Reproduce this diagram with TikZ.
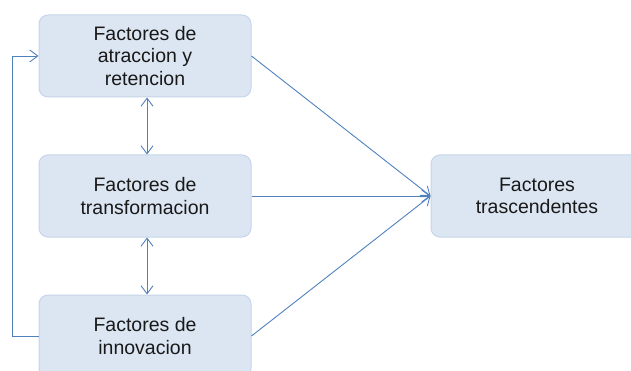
\documentclass[tikz,border=0pt]{standalone}
\usepackage{fontspec}
\setmainfont{Liberation Sans}
\usetikzlibrary{arrows.meta}
\definecolor{lineblue}{HTML}{4F81BD}
\definecolor{boxfill}{HTML}{DCE6F2}
\definecolor{boxedge}{HTML}{C6D5EA}
\begin{document}
\begin{tikzpicture}[x=1pt,y=-1pt,
  fbox/.style={draw=boxedge, line width=1pt, fill=boxfill, rounded corners=9pt,
    minimum width=212pt, minimum height=82pt, inner sep=0pt, align=center,
    font=\fontsize{19.5}{22.5}\selectfont, text=black!90},
  conn/.style={draw=lineblue, line width=0.9pt, -{Straight Barb[length=8pt,width=12pt]}},
  dconn/.style={draw=lineblue, line width=0.9pt, {Straight Barb[length=8pt,width=12pt]}-{Straight Barb[length=8pt,width=12pt]}}]
\useasboundingbox (0,0) rectangle (631,371);
\node[fbox] (a) at (145,56) {Factores de\\atraccion y\\retencion};
\node[fbox] (b) at (145,196) {Factores de\\transformacion};
\node[fbox] (c) at (145,336) {Factores de\\innovacion};
\node[fbox] (d) at (537,196) {Factores\\trascendentes};
\coordinate (fl) at (12,336);
\coordinate (fu) at (12,56);
\draw[conn] (c.west) -- (fl) -- (fu) -- (a.west);
\draw[dconn] ([xshift=2pt]a.south) -- ([xshift=2pt]b.north);
\draw[dconn] ([xshift=2pt]b.south) -- ([xshift=2pt]c.north);
\draw[conn] (a.east) -- (d.west);
\draw[conn] (b.east) -- (d.west);
\draw[conn] (c.east) -- (d.west);
\end{tikzpicture}
\end{document}
